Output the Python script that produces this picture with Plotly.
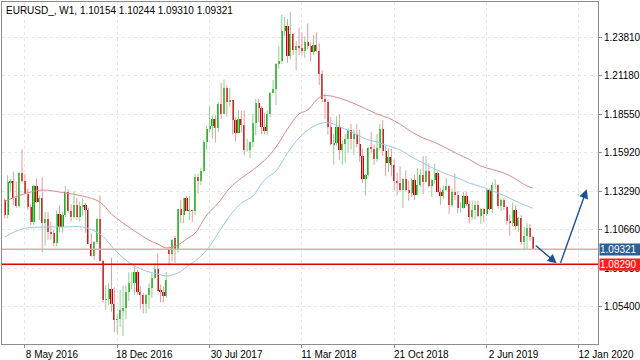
import pandas as pd
import plotly.graph_objects as go

# ---------------- data (EURUSD_, weekly bars) ----------------
first_week = "2016-03-20"

opens = [
    1.1270, 1.1165, 1.1390, 1.1398, 1.1286, 1.1225, 1.1453, 1.1402,   # 0
    1.1312, 1.1222, 1.1116, 1.1367, 1.1253, 1.1280, 1.1115, 1.1138,   # 8
    1.1052, 1.1041, 1.0976, 1.1173, 1.1086, 1.1165, 1.1325, 1.1197,   # 16
    1.1154, 1.1232, 1.1154, 1.1225, 1.1237, 1.1201, 1.0970, 1.0885,   # 24
    1.0985, 1.1140, 1.0850, 1.0586, 1.0590, 1.0663, 1.0560, 1.0450,   # 32
    1.0453, 1.0517, 1.0530, 1.0643, 1.0700, 1.0700, 1.0780, 1.0640,   # 40
    1.0617, 1.0560, 1.0620, 1.0670, 1.0738, 1.0797, 1.0650, 1.0643,   # 48
    1.0615, 1.0935, 1.0897, 1.1010, 1.0931, 1.1207, 1.1165, 1.1282,   # 56
    1.1196, 1.1198, 1.1195, 1.1426, 1.1400, 1.1470, 1.1665, 1.1751,   # 64
    1.1773, 1.1820, 1.1761, 1.1923, 1.1860, 1.2035, 1.1940, 1.1950,   # 72
    1.1815, 1.1730, 1.1820, 1.1780, 1.1610, 1.1610, 1.1665, 1.1795,   # 80
    1.1935, 1.1895, 1.1765, 1.1740, 1.1860, 1.2000, 1.2030, 1.2200,   # 88
    1.2220, 1.2425, 1.2460, 1.2250, 1.2405, 1.2295, 1.2320, 1.2305,   # 96
    1.2290, 1.2350, 1.2320, 1.2280, 1.2330, 1.2290, 1.2130, 1.1960,   # 104
    1.1940, 1.1770, 1.1650, 1.1660, 1.1770, 1.1610, 1.1655, 1.1685,   # 112
    1.1745, 1.1686, 1.1720, 1.1655, 1.1570, 1.1410, 1.1440, 1.1625,   # 120
    1.1620, 1.1550, 1.1625, 1.1755, 1.1605, 1.1525, 1.1560, 1.1510,   # 128
    1.1400, 1.1385, 1.1335, 1.1415, 1.1340, 1.1315, 1.1405, 1.1305,   # 136
    1.1370, 1.1440, 1.1395, 1.1470, 1.1365, 1.1405, 1.1455, 1.1325,   # 144
    1.1295, 1.1335, 1.1365, 1.1235, 1.1325, 1.1300, 1.1215, 1.1215,   # 152
    1.1295, 1.1245, 1.1150, 1.1200, 1.1235, 1.1160, 1.1205, 1.1170,   # 160
    1.1335, 1.1210, 1.1370, 1.1370, 1.1225, 1.1270, 1.1220, 1.1125,   # 168
    1.1110, 1.1200, 1.1090, 1.1145, 1.0985, 1.1025, 1.1075, 1.10154,  # 176
]
highs = [
    1.1280, 1.1438, 1.1415, 1.1465, 1.1395, 1.1460, 1.1616, 1.1446,
    1.1349, 1.1240, 1.1374, 1.1416, 1.1298, 1.1427, 1.1187, 1.1185,
    1.1120, 1.1068, 1.1198, 1.1234, 1.1190, 1.1366, 1.1342, 1.1240,
    1.1327, 1.1283, 1.1258, 1.1279, 1.1250, 1.1215, 1.1040, 1.0989,
    1.1146, 1.1300, 1.0861, 1.0687, 1.0700, 1.0874, 1.0672, 1.0487,
    1.0654, 1.0684, 1.0685, 1.0776, 1.0775, 1.0829, 1.0790, 1.0680,
    1.0633, 1.0628, 1.0700, 1.0766, 1.0829, 1.0906, 1.0691, 1.0679,
    1.0777, 1.0950, 1.1000, 1.1023, 1.1209, 1.1268, 1.1285, 1.1296,
    1.1296, 1.1200, 1.1446, 1.1445, 1.1490, 1.1683, 1.1777, 1.1910,
    1.1847, 1.1849, 1.1940, 1.2070, 1.2092, 1.2050, 1.2034, 1.1950,
    1.1835, 1.1880, 1.1880, 1.1880, 1.1688, 1.1670, 1.1861, 1.1961,
    1.1961, 1.1910, 1.1863, 1.1880, 1.2005, 1.2089, 1.2203, 1.2323,
    1.2536, 1.2520, 1.2506, 1.2555, 1.2410, 1.2355, 1.2446, 1.2413,
    1.2388, 1.2476, 1.2345, 1.2396, 1.2414, 1.2340, 1.2155, 1.1996,
    1.1955, 1.1834, 1.1720, 1.1840, 1.1852, 1.1676, 1.1720, 1.1760,
    1.1790, 1.1750, 1.1790, 1.1750, 1.1620, 1.1445, 1.1630, 1.1733,
    1.1650, 1.1720, 1.1790, 1.1815, 1.1640, 1.1620, 1.1620, 1.1545,
    1.1455, 1.1500, 1.1420, 1.1472, 1.1400, 1.1420, 1.1440, 1.1486,
    1.1480, 1.1570, 1.1570, 1.1520, 1.1415, 1.1515, 1.1465, 1.1350,
    1.1370, 1.1420, 1.1370, 1.1345, 1.1450, 1.1330, 1.1255, 1.1325,
    1.1325, 1.1265, 1.1265, 1.1265, 1.1265, 1.1215, 1.1215, 1.1348,
    1.1347, 1.1390, 1.1410, 1.1375, 1.1285, 1.1282, 1.1230, 1.1170,
    1.1250, 1.1230, 1.1150, 1.1165, 1.1085, 1.1110, 1.1105, 1.10244,
]
lows = [
    1.1144, 1.1143, 1.1327, 1.1234, 1.1215, 1.1217, 1.1383, 1.1310,
    1.1201, 1.1097, 1.1099, 1.1248, 1.1131, 1.0912, 1.0956, 1.0997,
    1.0998, 1.0952, 1.0952, 1.1046, 1.1046, 1.1153, 1.1180, 1.1122,
    1.1142, 1.1133, 1.1122, 1.1162, 1.1045, 1.0967, 1.0882, 1.0859,
    1.0969, 1.0848, 1.0569, 1.0518, 1.0549, 1.0505, 1.0366, 1.0352,
    1.0400, 1.0340, 1.0454, 1.0580, 1.0660, 1.0620, 1.0621, 1.0520,
    1.0493, 1.0495, 1.0525, 1.0600, 1.0730, 1.0648, 1.0570, 1.0570,
    1.0600, 1.0822, 1.0850, 1.0839, 1.0908, 1.1110, 1.1110, 1.1194,
    1.1132, 1.1119, 1.1165, 1.1313, 1.1370, 1.1457, 1.1612, 1.1728,
    1.1688, 1.1662, 1.1733, 1.1823, 1.1855, 1.1838, 1.1906, 1.1717,
    1.1669, 1.1730, 1.1730, 1.1574, 1.1600, 1.1554, 1.1630, 1.1710,
    1.1800, 1.1717, 1.1717, 1.1716, 1.1838, 1.1998, 1.1916, 1.2165,
    1.2200, 1.2390, 1.2207, 1.2230, 1.2260, 1.2154, 1.2260, 1.2257,
    1.2240, 1.2300, 1.2215, 1.2260, 1.2280, 1.2055, 1.1938, 1.1822,
    1.1717, 1.1640, 1.1510, 1.1640, 1.1540, 1.1510, 1.1525, 1.1590,
    1.1614, 1.1575, 1.1630, 1.1530, 1.1388, 1.1301, 1.1430, 1.1592,
    1.1510, 1.1530, 1.1609, 1.1570, 1.1432, 1.1460, 1.1430, 1.1335,
    1.1300, 1.1330, 1.1215, 1.1330, 1.1265, 1.1290, 1.1270, 1.1300,
    1.1360, 1.1310, 1.1390, 1.1355, 1.1290, 1.1380, 1.1320, 1.1235,
    1.1275, 1.1330, 1.1175, 1.1220, 1.1270, 1.1180, 1.1183, 1.1210,
    1.1226, 1.1110, 1.1135, 1.1135, 1.1150, 1.1105, 1.1115, 1.1160,
    1.1200, 1.1180, 1.1345, 1.1210, 1.1195, 1.1200, 1.1100, 1.1025,
    1.1090, 1.1065, 1.1050, 1.0965, 1.0926, 1.0927, 1.0990, 1.09310,
]
closes = [
    1.1165, 1.1390, 1.1398, 1.1286, 1.1225, 1.1453, 1.1402, 1.1312,
    1.1222, 1.1116, 1.1367, 1.1253, 1.1280, 1.1115, 1.1138, 1.1052,
    1.1041, 1.0976, 1.1173, 1.1086, 1.1165, 1.1325, 1.1197, 1.1154,
    1.1232, 1.1154, 1.1225, 1.1237, 1.1201, 1.0970, 1.0885, 1.0985,
    1.1140, 1.0850, 1.0586, 1.0590, 1.0663, 1.0560, 1.0450, 1.0453,
    1.0517, 1.0530, 1.0643, 1.0700, 1.0700, 1.0780, 1.0640, 1.0617,
    1.0560, 1.0620, 1.0670, 1.0738, 1.0797, 1.0650, 1.0643, 1.0615,
    1.0725, 1.0897, 1.0997, 1.0931, 1.1207, 1.1165, 1.1282, 1.1196,
    1.1198, 1.1195, 1.1426, 1.1400, 1.1470, 1.1665, 1.1751, 1.1773,
    1.1820, 1.1761, 1.1923, 1.1860, 1.2035, 1.1940, 1.1950, 1.1815,
    1.1730, 1.1820, 1.1780, 1.1610, 1.1610, 1.1665, 1.1795, 1.1935,
    1.1895, 1.1765, 1.1740, 1.1860, 1.2000, 1.2030, 1.2200, 1.2220,
    1.2425, 1.2460, 1.2250, 1.2405, 1.2295, 1.2320, 1.2305, 1.2290,
    1.2350, 1.2320, 1.2280, 1.2330, 1.2290, 1.2130, 1.1960, 1.1940,
    1.1770, 1.1650, 1.1660, 1.1770, 1.1610, 1.1655, 1.1685, 1.1745,
    1.1686, 1.1720, 1.1655, 1.1570, 1.1410, 1.1440, 1.1625, 1.1620,
    1.1550, 1.1625, 1.1755, 1.1605, 1.1525, 1.1560, 1.1510, 1.1400,
    1.1385, 1.1335, 1.1415, 1.1340, 1.1315, 1.1405, 1.1305, 1.1370,
    1.1440, 1.1395, 1.1470, 1.1365, 1.1405, 1.1455, 1.1325, 1.1295,
    1.1335, 1.1365, 1.1235, 1.1325, 1.1300, 1.1215, 1.1215, 1.1295,
    1.1245, 1.1150, 1.1200, 1.1235, 1.1160, 1.1205, 1.1170, 1.1335,
    1.1210, 1.1370, 1.1370, 1.1225, 1.1270, 1.1220, 1.1125, 1.1110,
    1.1200, 1.1090, 1.1145, 1.0985, 1.1025, 1.1075, 1.1015, 1.09321,
]

# moving-average lines (bar index -> price)
ma_idx = [0, 6, 13, 20, 27, 33, 37, 41, 45, 50, 53, 56, 60, 63, 66, 70, 74, 78,
          82, 86, 90, 94, 98, 102, 105, 108, 110, 113, 117, 121, 125, 129, 133,
          137, 141, 145, 149, 153, 157, 161, 165, 169, 173, 177, 181, 183]
ma_red = [1.1259, 1.1306, 1.1337, 1.1320, 1.1296, 1.1255, 1.1173, 1.1112, 1.1057,
          1.0995, 1.0968, 1.0941, 1.0961, 1.1002, 1.1043, 1.1166, 1.1248, 1.1351,
          1.1419, 1.1474, 1.1539, 1.1631, 1.1754, 1.1857, 1.1884, 1.1952, 1.1980,
          1.1980, 1.1959, 1.1929, 1.1894, 1.1857, 1.1829, 1.1788, 1.1734, 1.1693,
          1.1662, 1.1624, 1.1583, 1.1546, 1.1501, 1.1477, 1.1454, 1.1413, 1.1365,
          1.1351]
ma_blue = [1.1016, 1.1071, 1.1084, 1.1084, 1.1084, 1.1037, 1.0955, 1.0873, 1.0818,
           1.0777, 1.0763, 1.0750, 1.0770, 1.0811, 1.0852, 1.0927, 1.1043, 1.1160,
           1.1248, 1.1296, 1.1406, 1.1467, 1.1590, 1.1693, 1.1747, 1.1782, 1.1795,
           1.1795, 1.1761, 1.1727, 1.1686, 1.1665, 1.1638, 1.1611, 1.1563, 1.1522,
           1.1481, 1.1447, 1.1419, 1.1385, 1.1361, 1.1331, 1.1300, 1.1262, 1.1228,
           1.1214]

last_price = 1.09321
support_level = 1.08290
title_text = "EURUSD_, W1, 1.10154 1.10244 1.09310 1.09321"

y_ticks = [1.05400, 1.08030, 1.10660, 1.13290, 1.15920, 1.18550, 1.21180, 1.23810]
x_tick_dates = ["2016-05-08", "2016-12-18", "2017-07-30", "2018-03-11",
                "2018-10-21", "2019-06-02", "2020-01-12"]
x_tick_text = ["8 May 2016", "18 Dec 2016", "30 Jul 2017", "11 Mar 2018",
               "21 Oct 2018", "2 Jun 2019", "12 Jan 2020"]

# hand-drawn forecast arrows (start -> end)
arrow1_x = ["2019-09-25 12:00", "2019-11-19"]
arrow1_y = [1.0966, 1.0836]
arrow2_x = ["2019-11-27", "2020-01-31"]
arrow2_y = [1.0829, 1.1342]

# ---------------- figure ----------------
weeks = pd.date_range(first_week, periods=len(closes), freq="7D")
WEEK_MS = 7 * 24 * 3600 * 1000

UP_BODY, DN_BODY = "#10a810", "#c40000"
UP_WICK, DN_WICK = "#8fd08f", "#e29c9c"

fig = go.Figure()

# wicks
for up, col in ((True, UP_WICK), (False, DN_WICK)):
    xs, ys = [], []
    for d, o, h, l, c in zip(weeks, opens, highs, lows, closes):
        if (c >= o) == up:
            xs += [d, d, None]
            ys += [l, h, None]
    fig.add_trace(go.Scatter(x=xs, y=ys, mode="lines",
                             line=dict(color=col, width=1),
                             hoverinfo="skip", showlegend=False))

# bodies
for up, col in ((True, UP_BODY), (False, DN_BODY)):
    bx, bb, bh = [], [], []
    for d, o, c in zip(weeks, opens, closes):
        if (c >= o) == up:
            bx.append(d)
            bb.append(min(o, c))
            bh.append(abs(c - o))
    fig.add_trace(go.Bar(x=bx, y=bh, base=bb, width=0.75 * WEEK_MS,
                         marker=dict(color=col, line=dict(width=0)),
                         showlegend=False, hoverinfo="skip"))

# moving averages
ma_dates = [weeks[i] for i in ma_idx]
fig.add_trace(go.Scatter(x=ma_dates, y=ma_red, mode="lines",
                         line=dict(color="#d98a86", width=1, shape="spline"),
                         showlegend=False, hoverinfo="skip"))
fig.add_trace(go.Scatter(x=ma_dates, y=ma_blue, mode="lines",
                         line=dict(color="#96cce6", width=1, shape="spline"),
                         showlegend=False, hoverinfo="skip"))

# horizontal levels
fig.add_hline(y=last_price, line=dict(color="#e8a8a8", width=1.5))
fig.add_hline(y=support_level, line=dict(color="#dd0000", width=1.5))

# arrows
for ax_, ay_ in ((arrow1_x, arrow1_y), (arrow2_x, arrow2_y)):
    fig.add_annotation(x=ax_[1], y=ay_[1], ax=ax_[0], ay=ay_[0],
                       xref="x", yref="y", axref="x", ayref="y",
                       text="", showarrow=True, arrowhead=2, arrowsize=1.3,
                       arrowwidth=1.4, arrowcolor="#1c4f9c")

# price labels on the right
for val, bg in ((last_price, "#2c5f92"), (support_level, "#ff1c1c")):
    fig.add_annotation(x=1, xref="paper", xanchor="left", y=val, yref="y",
                       yanchor="middle", text=f"{val:.5f}", showarrow=False,
                       bgcolor=bg, font=dict(color="white", size=10,
                                             family="Liberation Sans, Arial"),
                       width=40, height=11, align="left", borderpad=0, xshift=1)

# title
fig.add_annotation(x=0, y=1, xref="paper", yref="paper", xanchor="left",
                   yanchor="top", xshift=2, yshift=-1, text=title_text,
                   showarrow=False,
                   font=dict(size=10, color="#000000",
                             family="Liberation Sans, Arial"))

x_start = weeks[0] - pd.Timedelta(days=6.6)
x_end = weeks[0] + pd.Timedelta(days=205.6 * 7)

fig.update_layout(
    template="none",
    width=640, height=360,
    margin=dict(l=2, r=42, t=2, b=16),
    paper_bgcolor="white", plot_bgcolor="white",
    barmode="overlay", bargap=0,
    showlegend=False,
    font=dict(family="Liberation Sans, Arial", size=10, color="#000000"),
    xaxis=dict(
        type="date", range=[x_start, x_end],
        tickvals=x_tick_dates, ticktext=x_tick_text,
        ticks="outside", ticklen=3, tickcolor="#8c8c8c",
        ticklabelshift=27, ticklabelstandoff=-2,
        showgrid=True, gridcolor="#e6e6e6", griddash="dot", gridwidth=1,
        showline=True, linecolor="#8c8c8c", linewidth=1, mirror=True,
        zeroline=False, automargin=False,
        tickfont=dict(size=10, color="#000000"),
    ),
    yaxis=dict(
        side="right", range=[1.02847, 1.26223],
        tickvals=y_ticks, ticktext=[f"{v:.5f}" for v in y_ticks],
        ticks="outside", ticklen=3, tickcolor="#8c8c8c",
        showgrid=True, gridcolor="#e6e6e6", griddash="dot", gridwidth=1,
        showline=True, linecolor="#8c8c8c", linewidth=1, mirror=True,
        zeroline=False, automargin=False,
        tickfont=dict(size=10, color="#000000"),
    ),
)

fig.write_html(
    "out.html",
    config={"displayModeBar": False},
    post_script="document.body.style.margin='0';"
                "document.body.style.overflow='hidden';",
)
